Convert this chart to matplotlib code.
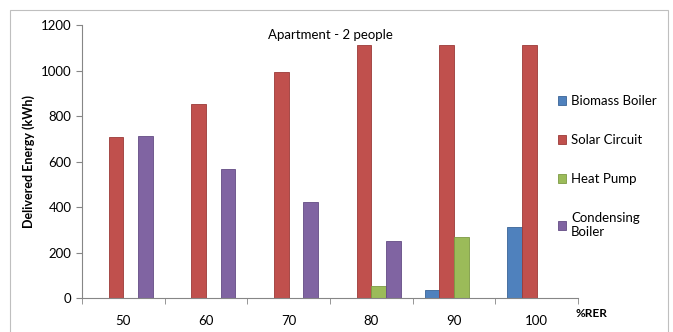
import matplotlib
matplotlib.use("Agg")
import matplotlib.pyplot as plt
import numpy as np
from matplotlib.patches import Rectangle

categories = ["50", "60", "70", "80", "90", "100"]
series_names = ["Biomass Boiler", "Solar Circuit", "Heat Pump", "Condensing\nBoiler"]
biomass = [0, 0, 0, 0, 34, 311]
solar = [709, 851, 995, 1112, 1112, 1112]
heat_pump = [0, 0, 0, 54, 270, 0]
condensing = [710, 567, 422, 252, 0, 0]
yticks = [0, 200, 400, 600, 800, 1000, 1200]

colors = ["#4F81BD", "#C0504D", "#9BBB59", "#8064A2"]
edges = ["#3A6396", "#9C3A38", "#7D9A44", "#634C84"]


def main() -> None:
    plt.rcParams["font.family"] = ["Lato", "DejaVu Sans"]
    fig = plt.figure(figsize=(6.73, 3.32), dpi=100)
    ax = fig.add_axes([0.1218, 0.1024, 0.7370, 0.8223])

    # light chart frame like the Excel chart area
    fig.patches.append(Rectangle((10 / 673, -0.05), 658 / 673, 1 - 10 / 332 + 0.05,
                                 transform=fig.transFigure, fill=False,
                                 edgecolor="#BFBFBF", linewidth=0.8))

    x = np.arange(len(categories))
    w = 0.178
    data = [biomass, solar, heat_pump, condensing]
    for i, vals in enumerate(data):
        ax.bar(x + (i - 1.5) * w, vals, width=w, color=colors[i],
               edgecolor=edges[i], linewidth=0.6, label=series_names[i])

    ax.set_xlim(-0.5, len(categories) - 0.5)
    ax.set_ylim(0, 1200)
    ax.set_yticks(yticks)
    ax.set_xticks(x)
    ax.set_xticklabels(categories)
    ax.set_xticks(np.arange(-0.5, len(categories)), minor=True)
    ax.tick_params(axis="x", which="major", length=0, pad=12, labelsize=9.5)
    ax.tick_params(axis="x", which="minor", length=4, color="#868686")
    ax.tick_params(axis="y", length=4, color="#868686", labelsize=9.5)

    for side in ["top", "right"]:
        ax.spines[side].set_visible(False)
    for side in ["left", "bottom"]:
        ax.spines[side].set_color("#868686")

    ax.set_ylabel("Delivered Energy (kWh)", fontsize=9, fontweight="bold")
    ax.text(0.5, 0.985, "Apartment - 2 people", transform=ax.transAxes,
            ha="center", va="top", fontsize=9.5)
    ax.text(0.995, -0.055, "%RER", transform=ax.transAxes, ha="left", va="center",
            fontsize=8.5, fontweight="bold")

    ax.legend(loc="upper left", bbox_to_anchor=(558 / 673, 1 - 95 / 332),
              bbox_transform=fig.transFigure, frameon=False, borderpad=0,
              borderaxespad=0, fontsize=9.5, handlelength=0.6, handleheight=0.6,
              handletextpad=0.4, labelspacing=2.05)

    fig.savefig("out.png", dpi=100)


if __name__ == "__main__":
    main()
